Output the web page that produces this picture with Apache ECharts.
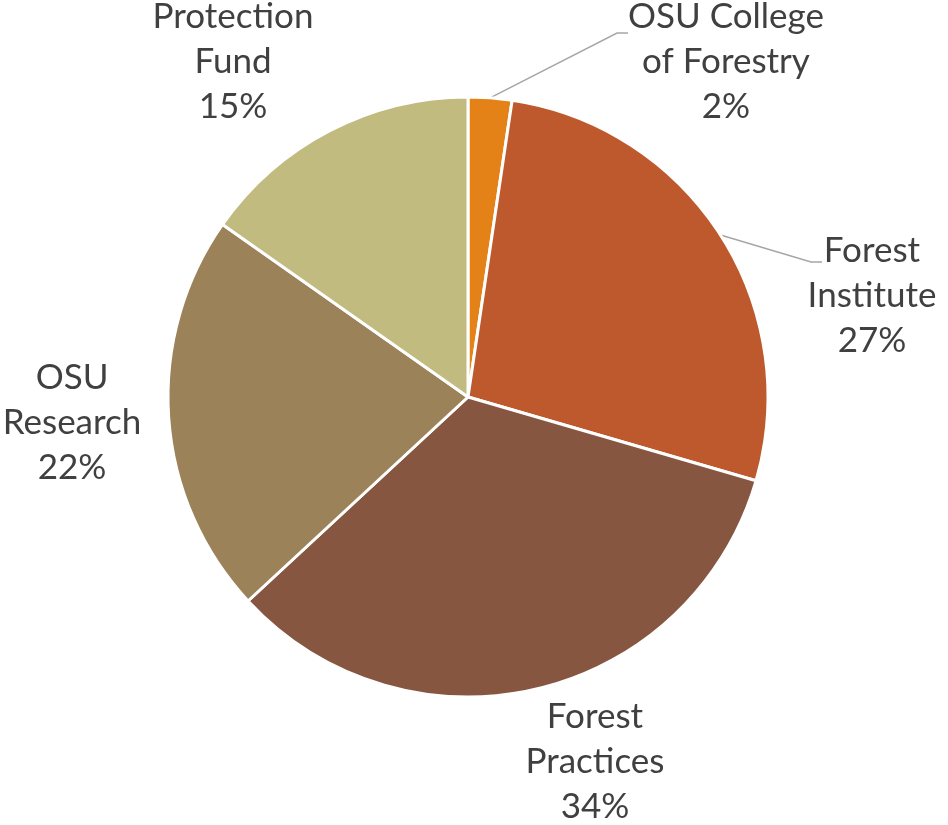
<!DOCTYPE html>
<html>
<head>
<meta charset="utf-8">
<script src="https://cdn.jsdelivr.net/npm/echarts@6/dist/echarts.min.js"></script>
<style>
html,body{margin:0;padding:0;background:#fff;}
#chart{width:948px;height:825px;}
</style>
</head>
<body>
<div id="chart"></div>
<script>
// Data
var categories = ['OSU College\nof Forestry', 'Forest\nInstitute', 'Forest\nPractices', 'OSU\nResearch', 'Protection\nFund'];
var values = [2.35, 27.15, 33.6, 21.65, 15.25];
var colors = ['#E48117', '#BE592D', '#875641', '#9C8258', '#C2BB80'];

// label placement (style only)
var labelPos = [
  {x: 726, y: 62, lineEnd: [-98, -29]},
  {x: 872, y: 296, lineEnd: [-50, -34]},
  {x: 595, y: 762},
  {x: 72, y: 423},
  {x: 233, y: 62}
];

var chart = echarts.init(document.getElementById('chart'));
var data = categories.map(function (c, i) {
  var item = {name: c, value: values[i], itemStyle: {color: colors[i]}};
  if (!labelPos[i].lineEnd) item.labelLine = {show: false};
  return item;
});

chart.setOption({
  animation: false,
  series: [{
    type: 'pie',
    center: [468, 397],
    radius: 300,
    startAngle: 90,
    clockwise: true,
    avoidLabelOverlap: false,
    data: data,
    itemStyle: {borderColor: '#ffffff', borderWidth: 3},
    label: {
      show: true,
      position: 'outside',
      fontFamily: 'Lato',
      fontSize: 35,
      lineHeight: 45,
      color: '#404040',
      align: 'center',
      formatter: function (p) { return p.name + '\n' + Math.round(p.percent) + '%'; }
    },
    labelLine: {show: true, length: 20, length2: 10, lineStyle: {color: '#A6A6A6', width: 1.5}},
    emphasis: {disabled: true},
    labelLayout: function (p) {
      var lp = labelPos[p.dataIndex];
      var res = {x: lp.x, y: lp.y, align: 'center', verticalAlign: 'middle'};
      if (lp.lineEnd && p.labelLinePoints) {
        var start = p.labelLinePoints[0];
        var ex = lp.x + lp.lineEnd[0], ey = lp.y + lp.lineEnd[1];
        res.labelLinePoints = [start, [ex - 11, ey], [ex, ey]];
      }
      return res;
    }
  }]
});
</script>
</body>
</html>
